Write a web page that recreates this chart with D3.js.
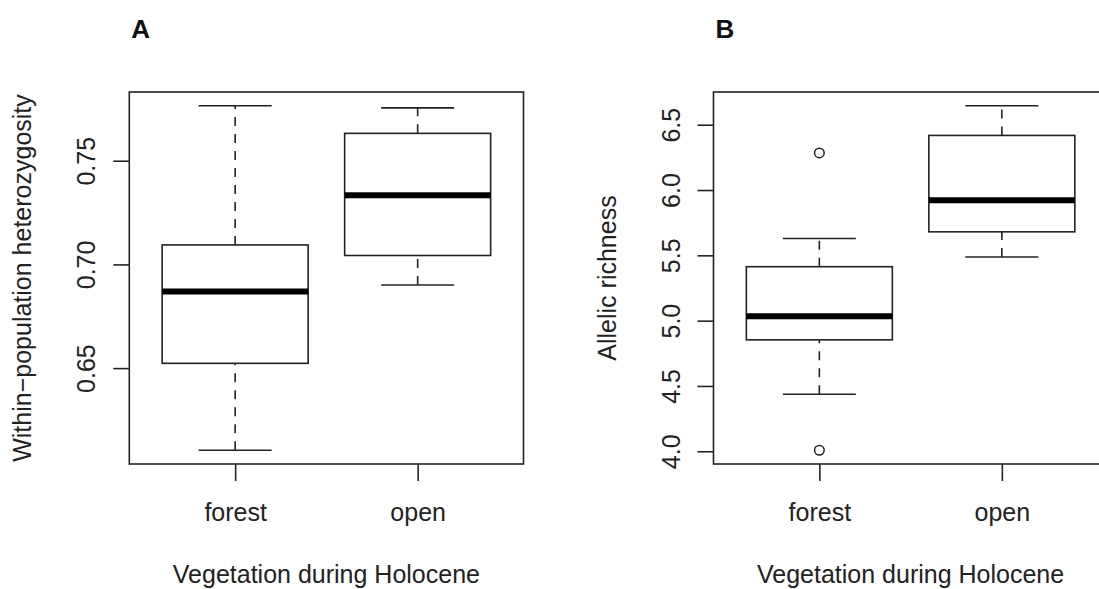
<!DOCTYPE html>
<html>
<head>
<meta charset="utf-8">
<script src="https://cdn.jsdelivr.net/npm/d3@7"></script>
<style>
  html, body { margin: 0; padding: 0; background: #fff; }
  svg { display: block; font-family: "Liberation Sans", Arial, Helvetica, sans-serif; }
</style>
</head>
<body>
<svg id="chart" width="1099" height="589"></svg>
<script>
// ---- Data ----
const categories = ["forest", "open"];

// Panel A: within-population heterozygosity
const hetLower  = [0.6104, 0.6901];
const hetQ1     = [0.6523, 0.7043];
const hetMedian = [0.6869, 0.7333];
const hetQ3     = [0.7094, 0.7632];
const hetUpper  = [0.7765, 0.7755];
const hetOutliers = [[], []];
const hetTicks = [0.65, 0.70, 0.75];

// Panel B: allelic richness
const arLower  = [4.437, 5.487];
const arQ1     = [4.853, 5.680];
const arMedian = [5.033, 5.921];
const arQ3     = [5.413, 6.418];
const arUpper  = [5.629, 6.645];
const arOutliers = [[6.284, 4.008], []];
const arTicks = [4.0, 4.5, 5.0, 5.5, 6.0, 6.5];

const xTitle = "Vegetation during Holocene";

// ---- Drawing ----
const svg = d3.select("#chart");
const ink = "#222";
const fontSize = 25;

function panel(opts) {
  const { left, right, top, bottom, letter, yTitle, lower, q1, med, q3, upper, outliers, ticks, fmt } = opts;
  const g = svg.append("g");

  // value extent like R boxplot (range of all data, +4%)
  const allVals = [].concat(lower, upper, ...outliers);
  const lo = d3.min(allVals), hi = d3.max(allVals);
  const pad = (hi - lo) * 0.04;
  const y = d3.scaleLinear().domain([lo - pad, hi + pad]).range([bottom, top]);
  const x = d3.scaleLinear().domain([0.42, 2.58]).range([left, right]);
  const unit = x(1) - x(0);

  // y axis
  const yAxis = d3.axisLeft(y).tickValues(ticks).tickSize(16).tickSizeOuter(0).tickFormat(fmt);
  const ya = g.append("g").attr("transform", `translate(${left},0)`).call(yAxis);
  ya.select(".domain").remove();
  ya.selectAll(".tick line").attr("stroke", ink).attr("stroke-width", 1.6);
  ya.selectAll(".tick text")
    .attr("transform", "rotate(-90)")
    .attr("x", 0).attr("y", -34).attr("dy", 0)
    .attr("text-anchor", "middle")
    .attr("fill", ink).attr("font-size", fontSize)
    .attr("font-family", "Liberation Sans, Arial, sans-serif");

  // x axis
  const xAxis = d3.axisBottom(x).tickValues([1, 2]).tickSize(17).tickSizeOuter(0)
    .tickFormat((d) => categories[d - 1]);
  const xa = g.append("g").attr("transform", `translate(0,${bottom})`).call(xAxis);
  xa.select(".domain").remove();
  xa.selectAll(".tick line").attr("stroke", ink).attr("stroke-width", 1.6);
  xa.selectAll(".tick text")
    .attr("y", 56.5).attr("dy", 0)
    .attr("fill", ink).attr("font-size", fontSize)
    .attr("font-family", "Liberation Sans, Arial, sans-serif");

  // boxes
  categories.forEach((c, i) => {
    const cx = x(i + 1);
    const bw = 0.8 * unit, sw = 0.4 * unit;
    // whiskers (dashed)
    g.append("line").attr("x1", cx).attr("x2", cx).attr("y1", y(lower[i])).attr("y2", y(q1[i]))
      .attr("stroke", ink).attr("stroke-width", 1.6).attr("stroke-dasharray", "9,8");
    g.append("line").attr("x1", cx).attr("x2", cx).attr("y1", y(q3[i])).attr("y2", y(upper[i]))
      .attr("stroke", ink).attr("stroke-width", 1.6).attr("stroke-dasharray", "9,8");
    // staples
    [lower[i], upper[i]].forEach((v) => {
      g.append("line").attr("x1", cx - sw / 2).attr("x2", cx + sw / 2).attr("y1", y(v)).attr("y2", y(v))
        .attr("stroke", ink).attr("stroke-width", 1.6);
    });
    // box
    g.append("rect").attr("x", cx - bw / 2).attr("width", bw)
      .attr("y", y(q3[i])).attr("height", y(q1[i]) - y(q3[i]))
      .attr("fill", "none").attr("stroke", ink).attr("stroke-width", 1.6);
    // median
    g.append("line").attr("x1", cx - bw / 2).attr("x2", cx + bw / 2).attr("y1", y(med[i])).attr("y2", y(med[i]))
      .attr("stroke", "#000").attr("stroke-width", 6);
    // outliers
    outliers[i].forEach((v) => {
      g.append("circle").attr("cx", cx).attr("cy", y(v)).attr("r", 4.8)
        .attr("fill", "none").attr("stroke", ink).attr("stroke-width", 1.5);
    });
  });

  // frame
  g.append("rect").attr("x", left).attr("y", top).attr("width", right - left).attr("height", bottom - top)
    .attr("fill", "none").attr("stroke", ink).attr("stroke-width", 1.6);

  // y title
  g.append("text")
    .attr("transform", `translate(${left - 98},${(top + bottom) / 2}) rotate(-90)`)
    .attr("text-anchor", "middle").attr("fill", ink).attr("font-size", fontSize)
    .text(yTitle);

  // x title
  g.append("text")
    .attr("x", (left + right) / 2).attr("y", 582.5)
    .attr("text-anchor", "middle").attr("fill", ink).attr("font-size", fontSize)
    .text(xTitle);

  // panel letter
  g.append("text")
    .attr("x", left + 2).attr("y", 37.5)
    .attr("font-weight", "bold").attr("font-size", 26).attr("fill", "#111")
    .text(letter);
}

panel({
  left: 129.3, right: 523.5, top: 92, bottom: 464, letter: "A",
  yTitle: "Within\u2212population heterozygosity",
  lower: hetLower, q1: hetQ1, med: hetMedian, q3: hetQ3, upper: hetUpper, outliers: hetOutliers,
  ticks: hetTicks, fmt: d3.format(".2f")
});

panel({
  left: 713.5, right: 1107.7, top: 92, bottom: 464, letter: "B",
  yTitle: "Allelic richness",
  lower: arLower, q1: arQ1, med: arMedian, q3: arQ3, upper: arUpper, outliers: arOutliers,
  ticks: arTicks, fmt: d3.format(".1f")
});
</script>
</body>
</html>
